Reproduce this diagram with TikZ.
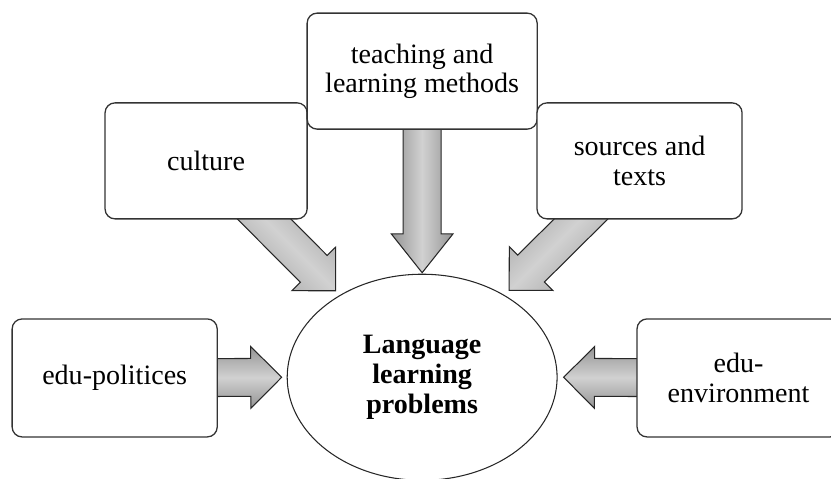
\documentclass[tikz,border=0pt]{standalone}
\usepackage{fontspec}
\setmainfont{Liberation Serif}
\usetikzlibrary{calc,backgrounds,shapes.geometric}

\tikzset{
    factor/.style={draw=black!80, line width=1.1pt, rounded corners=0.3cm, fill=white,
        align=center, font=\fontsize{24}{25}\selectfont},
    problem/.style={ellipse, draw=black!85, line width=0.9pt, fill=white, align=center,
        minimum width=8.12cm, minimum height=6.2cm, inner sep=0pt,
        font=\fontsize{24}{25.5}\selectfont\bfseries},
    head length/.store in=\headlen, head length=0.93,
    blockarrow/.style={draw=black!85, line width=0.9pt, line join=miter,
        left color=black!42, right color=black!42, middle color=black!18}
}

% fat arrow from the centre of #2 to the tip #3
\newcommand{\blockarrow}[3][]{%
    \draw[blockarrow, #1] let \p1 = ($(#3)-(#2)$), \n1 = {atan2(\y1,\x1)} in
        ($(#2)+(\n1-90:0.57)$) -- ($(#3)+(\n1+180:\headlen)+(\n1-90:0.57)$)
        -- ($(#3)+(\n1+180:\headlen)+(\n1-90:0.93)$) -- (#3)
        -- ($(#3)+(\n1+180:\headlen)+(\n1+90:0.93)$)
        -- ($(#3)+(\n1+180:\headlen)+(\n1+90:0.57)$)
        -- ($(#2)+(\n1+90:0.57)$) -- cycle;}

\begin{document}
\begin{tikzpicture}
    \useasboundingbox (0, 0) rectangle (25, 14.41);
    %\draw[lightgray] (0, 0) grid (25, 14);

    \node[problem] (problems) at (12.7, 3.06) {Language\\learning\\problems};

    \node[factor, minimum width=6.17cm, minimum height=3.55cm] (politics) at (3.45, 3.04) {edu-politices};
    \node[factor, minimum width=6.08cm, minimum height=3.49cm] (culture) at (6.2, 9.57) {culture};
    \node[factor, minimum width=6.92cm, minimum height=3.49cm] (methods) at (12.7, 12.27) {teaching and\\learning methods};
    \node[factor, minimum width=6.17cm, minimum height=3.49cm] (sources) at (19.24, 9.57) {sources and\\texts};
    \node[factor, minimum width=6.11cm, minimum height=3.55cm] (environment) at (22.22, 3.04) {edu-\\environment};

    % arrow tips stop just short of the ellipse
    \coordinate (politics tip) at ($(problems.west)!0.15cm!(politics)$);
    \coordinate (culture tip) at ($(problems.135)!0.18cm!(culture)$);
    \coordinate (methods tip) at ($(problems.north)!0.03cm!(methods)$);
    \coordinate (sources tip) at ($(problems.45)!0.2cm!(sources)$);
    \coordinate (environment tip) at ($(problems.east)!0.18cm!(environment)$);

    \begin{scope}[on background layer]
        \blockarrow[shading angle=0]{politics}{politics tip}
        \blockarrow[shading angle=-45]{culture}{culture tip}
        \blockarrow[shading angle=90, head length=1.17]{methods}{methods tip}
        \blockarrow[shading angle=45]{sources}{sources tip}
        \blockarrow[shading angle=0]{environment}{environment tip}
    \end{scope}
\end{tikzpicture}
\end{document}
